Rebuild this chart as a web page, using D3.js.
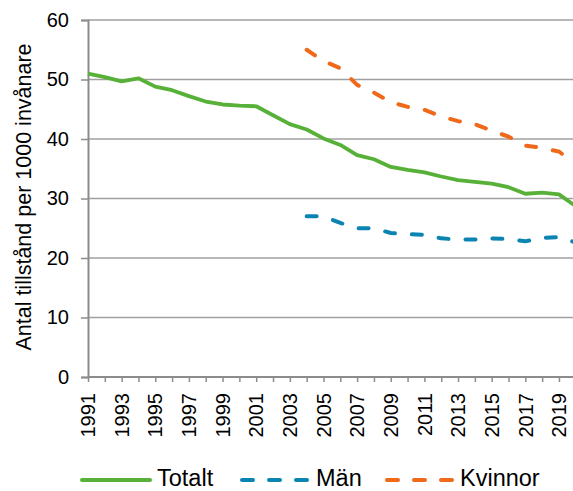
<!DOCTYPE html>
<html><head><meta charset="utf-8">
<script src="https://cdn.jsdelivr.net/npm/d3@7"></script>
<style>body{margin:0;background:#fff}svg{display:block}text{font-family:"Liberation Sans",Arial,sans-serif;fill:#000}</style>
</head><body><svg id="c" width="573" height="491"></svg>
<script>
const years = d3.range(1991, 2021);
const yearLabels = years.filter((y,i)=>i%2===0);
const yTicks = [0,10,20,30,40,50,60];
const totalt = [51.0,50.4,49.7,50.2,48.8,48.2,47.2,46.3,45.8,45.6,45.5,44.0,42.5,41.6,40.1,39.0,37.3,36.6,35.3,34.8,34.4,33.7,33.1,32.8,32.5,31.9,30.8,31.0,30.7,28.7];
const manYears = d3.range(2004, 2021);
const man = [27.0,27.0,25.9,25.0,25.0,24.2,24.0,23.9,23.3,23.1,23.1,23.3,23.2,22.8,23.4,23.5,22.6];
const kvinnor = [55.0,53.1,51.9,49.1,47.8,46.2,45.4,44.9,43.8,43.0,42.5,41.4,40.4,38.9,38.5,37.9,35.7];
const seriesNames = ["Totalt","Män","Kvinnor"];
const colors = ["#57B138","#0B84B1","#F0691A"];

const svg = d3.select("#c");
const x = d3.scalePoint().domain(years).range([88, 88 + 29*16.82]);
const y = d3.scaleLinear().domain([0,60]).range([377, 20]);
const gridColor = "#a0a0a0", axisColor = "#8c8c8c";
const FF = "Liberation Sans, Arial, sans-serif";

// gridlines
svg.append("g").selectAll("line").data(yTicks.filter(d=>d>0)).join("line")
  .attr("x1",88).attr("x2",573).attr("y1",d=>y(d)).attr("y2",d=>y(d))
  .attr("stroke",gridColor).attr("stroke-width",1.5);

// y axis
const ya = svg.append("g").attr("transform","translate(88,0)")
  .call(d3.axisLeft(y).tickValues(yTicks).tickSize(7).tickPadding(12));
ya.select(".domain").attr("stroke",axisColor).attr("stroke-width",2);
ya.selectAll(".tick line").attr("stroke",axisColor).attr("stroke-width",1.5);
ya.selectAll(".tick text").style("font-size","20px").attr("font-family",FF).attr("fill","#000");

// x axis (ticks via d3 axis, labels placed explicitly)
const xa = svg.append("g").attr("transform","translate(0,377)")
  .call(d3.axisBottom(x).tickSize(5).tickFormat(""));
xa.select(".domain").attr("stroke",axisColor).attr("stroke-width",2).attr("d","M88,0H573");
xa.selectAll(".tick line").attr("stroke",axisColor).attr("stroke-width",1.5);
svg.append("g").selectAll("text").data(yearLabels).join("text")
  .attr("transform",d=>`translate(${x(d)},393) rotate(-90)`)
  .attr("text-anchor","end").attr("dy","0.36em")
  .style("font-size","20px").text(d=>d);

// y title
svg.append("text").attr("transform","translate(31,197) rotate(-90)")
  .attr("text-anchor","middle").style("font-size","21.5px").text("Antal tillstånd per 1000 invånare");

// lines
const line = d3.line().x(d=>x(d[0])).y(d=>y(d[1]));
svg.append("path").datum(years.map((yr,i)=>[yr,totalt[i]])).attr("d",line)
  .attr("fill","none").attr("stroke",colors[0]).attr("stroke-width",3.8).attr("stroke-linejoin","round");
svg.append("path").datum(manYears.map((yr,i)=>[yr,man[i]])).attr("d",line)
  .attr("fill","none").attr("stroke",colors[1]).attr("stroke-width",4).attr("stroke-linecap","round")
  .attr("stroke-dasharray","10,17");
svg.append("path").datum(manYears.map((yr,i)=>[yr,kvinnor[i]])).attr("d",line)
  .attr("fill","none").attr("stroke",colors[2]).attr("stroke-width",4).attr("stroke-linecap","round")
  .attr("stroke-dasharray","10,17");

// legend
const leg = [{x1:82,x2:150,tx:157},{x1:242,x2:310,tx:316},{x1:387,x2:453,tx:460}];
leg.forEach((l,i)=>{
  const ln = svg.append("line").attr("x1",l.x1).attr("x2",l.x2).attr("y1",480).attr("y2",480)
    .attr("stroke",colors[i]).attr("stroke-width",4).attr("stroke-linecap","round");
  if(i>0) ln.attr("stroke-dasharray","11,16");
  svg.append("text").attr("x",l.tx).attr("y",486).style("font-size","23.5px").text(seriesNames[i]);
});
</script></body></html>
